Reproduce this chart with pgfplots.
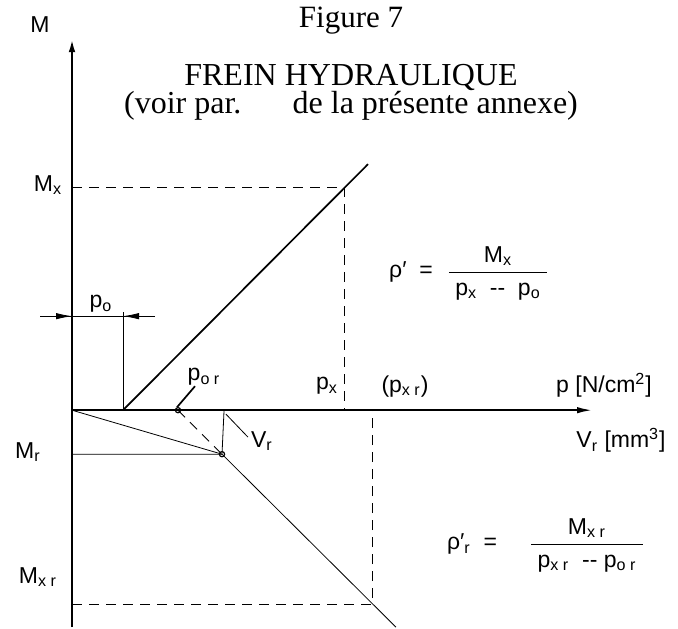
\documentclass[border=0pt]{standalone}
\usepackage{fontspec}
\usepackage{amsmath}
\setmainfont{Liberation Serif}
\newfontfamily\cad{Liberation Sans}
\usepackage{pgfplots}
\pgfplotsset{compat=1.18}
\usetikzlibrary{arrows.meta}
\tikzset{
    dsh/.style={dash pattern=on 5pt off 3.5pt},
    lbl/.style={font=\cad\fontsize{11.5}{13}\selectfont, inner sep=0pt},
}

% coordinates: 1 unit = 1 px of the reference, origin where the two axes cross
\begin{document}
\begin{tikzpicture}
\begin{axis}[
    width=339pt, height=311.5pt, scale only axis,
    xmin=-72, xmax=606, ymin=-217, ymax=406,
    axis lines=none, clip=false,
    cycle list={{black,solid,mark=none,line width=0.85pt}},
]
% frame of the picture (not drawn)
\addplot[draw=none] coordinates {(-72,-217) (606,406)};
% axes
\addplot[line width=1.4pt, -{Latex[length=8pt,width=3.2pt]}] coordinates {(0,-217) (0,374)};
\addplot[line width=1.1pt, -{Latex[length=8pt,width=3.2pt]}] coordinates {(0,0) (521,0)};

% upper branch
\addplot coordinates {(51,0) (296,246)};
\addplot[dsh] coordinates {(0,223) (272,223) (272,0)};
\addplot coordinates {(51,0) (51,98)};
\addplot coordinates {(-32,94) (83,94)};
\addplot[-{Latex[length=8pt,width=3.2pt]}] coordinates {(-32,94) (0,94)};
\addplot[-{Latex[length=8pt,width=3.2pt]}] coordinates {(83,94) (51,94)};

% lower branch
\addplot coordinates {(0,0) (150,-44)};
\addplot coordinates {(0,-44) (150,-44) (324,-217)};
\addplot[dsh] coordinates {(106,0) (150,-44)};
\addplot[dsh] coordinates {(0,-194) (300,-194) (300,0)};
\addplot coordinates {(152,-1) (150,-44)};
\addplot coordinates {(154,-4) (176,-27)};
\addplot coordinates {(105,3) (123,24)};
\addplot[only marks, mark=o, mark size=1.3pt, line width=0.6pt, fill=white] coordinates {(106,0) (150,-44)};

% title
\node[font=\fontsize{15.5}{18}\selectfont, anchor=base] at (axis cs:279,383) {Figure 7};
\node[font=\fontsize{16}{18}\selectfont, anchor=base] at (axis cs:279,325) {FREIN HYDRAULIQUE};
\node[font=\fontsize{16}{18}\selectfont, anchor=base] at (axis cs:279,297) {(voir par.\hspace{1.6em}de la présente annexe)};

% labels
\node[lbl] at (axis cs:-32,386) {M};
\node[lbl] at (axis cs:-24,225) {M\textsubscript{x}};
\node[lbl] at (axis cs:29,106) {p\textsubscript{o}};
\node[lbl] at (axis cs:132,33) {p\textsubscript{o r}};
\node[lbl] at (axis cs:255,24) {p\textsubscript{x}};
\node[lbl] at (axis cs:333,24) {(p\textsubscript{x r})};
\node[lbl] at (axis cs:532,25) {p [N/cm\textsuperscript{2}]};
\node[lbl] at (axis cs:190,-31) {V\textsubscript{r}};
\node[lbl] at (axis cs:549,-30) {V\textsubscript{r} [mm\textsuperscript{3}]};
\node[lbl] at (axis cs:-44,-42) {M\textsubscript{r}};
\node[lbl] at (axis cs:-34,-167) {M\textsubscript{x r}};

% formulas
\node[lbl] at (axis cs:339,138) {ρ′ \ =};
\node[lbl] at (axis cs:426,137) {\(\dfrac{\text{\;M\textsubscript{x}\;}}{\text{\;p\textsubscript{x} \ -- \ p\textsubscript{o}\;}}\)};
\node[lbl] at (axis cs:400,-134) {ρ′\textsubscript{r} \ =};
\node[lbl] at (axis cs:515,-135) {\(\dfrac{\text{M\textsubscript{x r}}}{\text{\;p\textsubscript{x r} \ -- p\textsubscript{o r}\;}}\)};
\end{axis}
\end{tikzpicture}
\end{document}
